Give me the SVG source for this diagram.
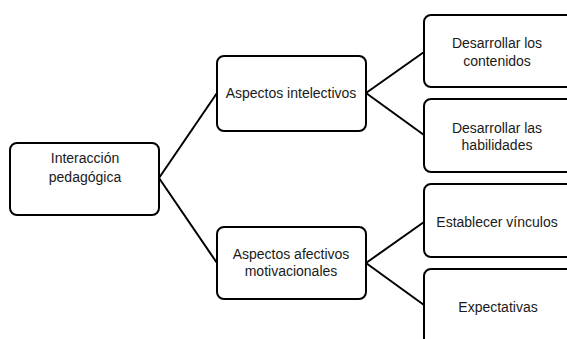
<svg xmlns="http://www.w3.org/2000/svg" width="567" height="339" viewBox="0 0 567 339">
<style>
.box{fill:#fff;stroke:#000;stroke-width:2}
.t{font-family:"Liberation Sans",Arial,sans-serif;font-size:14px;fill:#1a1a1a;text-anchor:middle}
.c{stroke:#000;stroke-width:2;fill:none}
</style>
<rect width="567" height="339" fill="#fff"/>
<g id="connectors">
<line class="c" x1="159" y1="178" x2="217" y2="93"/>
<line class="c" x1="159" y1="178" x2="217" y2="263"/>
<line class="c" x1="366" y1="93" x2="424" y2="52"/>
<line class="c" x1="366" y1="93" x2="424" y2="135"/>
<line class="c" x1="366" y1="263" x2="424" y2="222"/>
<line class="c" x1="366" y1="263" x2="424" y2="305"/>
</g>
<g id="root">
<rect class="box" x="10" y="143" width="149" height="72" rx="7"/>
<text class="t" x="85" y="163">Interacción</text>
<text class="t" x="85" y="182">pedagógica</text>
</g>
<g id="intelectivos">
<rect class="box" x="217" y="56" width="149" height="75" rx="7"/>
<text class="t" x="291" y="98">Aspectos intelectivos</text>
</g>
<g id="afectivos">
<rect class="box" x="217" y="227" width="149" height="72" rx="7"/>
<text class="t" x="291" y="259">Aspectos afectivos</text>
<text class="t" x="291" y="276">motivacionales</text>
</g>
<g id="contenidos">
<rect class="box" x="424" y="15" width="160" height="72" rx="7"/>
<text class="t" x="497" y="48">Desarrollar los</text>
<text class="t" x="497" y="66">contenidos</text>
</g>
<g id="habilidades">
<rect class="box" x="424" y="99" width="160" height="73" rx="7"/>
<text class="t" x="497" y="133">Desarrollar las</text>
<text class="t" x="497" y="150">habilidades</text>
</g>
<g id="vinculos">
<rect class="box" x="424" y="184" width="160" height="73" rx="7"/>
<text class="t" x="497" y="227">Establecer vínculos</text>
</g>
<g id="expectativas">
<rect class="box" x="424" y="269" width="160" height="90" rx="7"/>
<text class="t" x="498" y="312">Expectativas</text>
</g>
</svg>
